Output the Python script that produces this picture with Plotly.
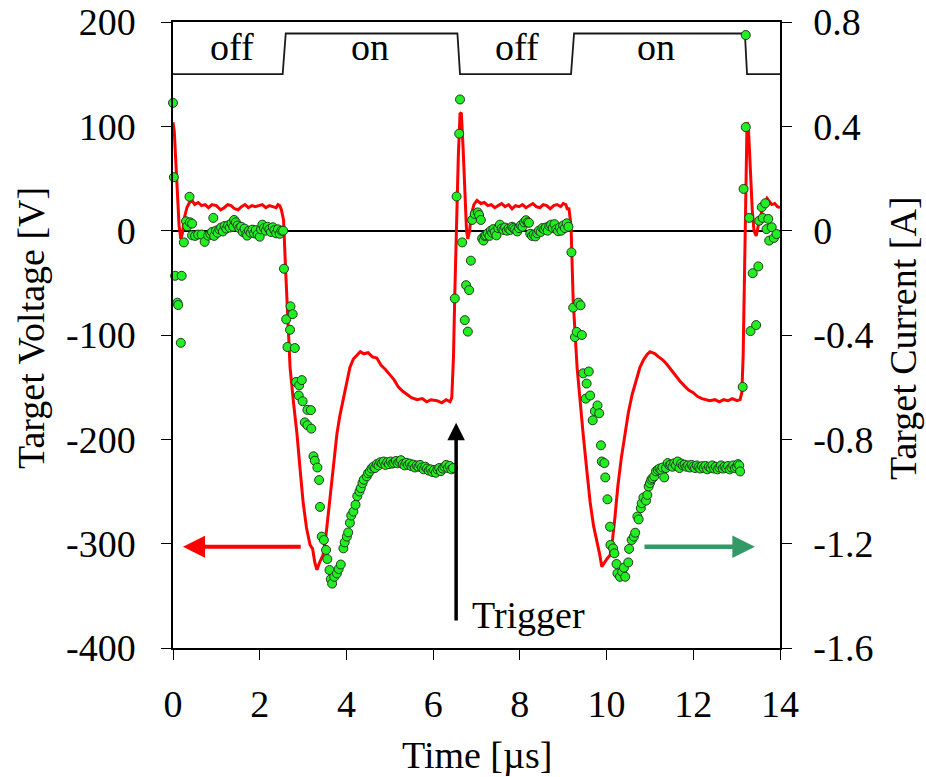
import plotly.graph_objects as go

# ---- Target voltage (red line, left axis) ----
volt_t = [0.00, 0.03, 0.06, 0.10, 0.14, 0.18, 0.22, 0.26, 0.32, 0.38, 0.44, 0.50, 0.58, 0.66, 0.74,
          0.82, 0.90, 1.00, 1.10, 1.18, 1.26, 1.34, 1.42, 1.50, 1.58, 1.66, 1.74, 1.82, 1.90, 1.98,
          2.06, 2.14, 2.22, 2.30, 2.38, 2.42, 2.46, 2.50, 2.55, 2.60, 2.63, 2.70, 2.78, 2.86, 2.93,
          3.00, 3.08, 3.16, 3.22, 3.27, 3.32, 3.38, 3.46, 3.52, 3.57, 3.64, 3.70, 3.78, 3.85, 3.92,
          4.00, 4.08, 4.16, 4.24, 4.32, 4.40, 4.50, 4.60, 4.70, 4.80, 4.90, 5.00, 5.10, 5.20, 5.30,
          5.40, 5.50, 5.63, 5.75, 5.85, 5.95, 6.09, 6.20, 6.30, 6.39, 6.43, 6.47, 6.50, 6.54, 6.58,
          6.62, 6.65, 6.69, 6.73, 6.77, 6.80, 6.84, 6.88, 6.94, 7.01, 7.10, 7.18, 7.26, 7.34, 7.42,
          7.50, 7.58, 7.66, 7.74, 7.82, 7.90, 7.98, 8.06, 8.14, 8.22, 8.30, 8.38, 8.46, 8.54, 8.62,
          8.70, 8.78, 8.86, 8.94, 9.00, 9.06, 9.10, 9.13, 9.18, 9.23, 9.32, 9.39, 9.46, 9.54, 9.62,
          9.70, 9.78, 9.84, 9.89, 9.95, 10.02, 10.08, 10.14, 10.19, 10.26, 10.34, 10.42, 10.50, 10.59, 10.68,
          10.77, 10.85, 10.93, 11.00, 11.05, 11.12, 11.20, 11.30, 11.39, 11.50, 11.60, 11.69, 11.80, 11.90, 11.99,
          12.10, 12.20, 12.30, 12.38, 12.50, 12.60, 12.70, 12.80, 12.90, 13.01, 13.08, 13.12, 13.15, 13.18, 13.21,
          13.24, 13.27, 13.31, 13.36, 13.40, 13.45, 13.50, 13.56, 13.62, 13.70, 13.76, 13.81, 13.88, 13.94, 14.00]
volt_v = [104, 95, 70, 35, 5, -8, -2, 12, 22, 27, 29, 25, 27, 24, 25,
          22, 25, 24, 20, 22, 25, 24, 21, 20, 23, 25, 22, 24, 23, 24,
          25, 22, 24, 23, 22, 25, 24, 20, 10, -40, -67, -131, -165, -195, -228,
          -260, -285, -301, -305, -318, -325, -318, -311, -295, -276, -248, -225, -195, -177, -163,
          -145, -131, -123, -119, -116, -118, -117, -121, -122, -129, -133, -138, -143, -150, -154,
          -157, -160, -162, -161, -164, -162, -163, -165, -162, -164, -160, -120, -60, 10, 70,
          112, 113, 80, 30, 0, -8, 0, 15, 25, 29, 26, 27, 24, 25, 22,
          24, 26, 23, 25, 21, 24, 23, 25, 22, 24, 26, 23, 22, 25, 24,
          21, 24, 25, 23, 26, 25, 20, 22, 5, -67, -131, -165, -195, -228, -260,
          -283, -298, -310, -322, -318, -314, -311, -295, -276, -245, -218, -195, -175, -157, -143,
          -131, -124, -119, -116, -117, -118, -121, -124, -128, -134, -140, -144, -149, -153, -155,
          -159, -161, -162, -163, -162, -164, -162, -163, -161, -163, -162, -155, -120, -50, 40,
          104, 100, 60, 20, 0, -5, 5, 15, 25, 31, 28, 25, 26, 23, 22]

# ---- Target current (green dots, right axis) ----
curr_t = [0.00, 0.02, 0.05, 0.10, 0.12, 0.18, 0.20, 0.25, 0.30, 0.33, 0.38, 0.39, 0.44, 0.44, 0.51,
          0.58, 0.66, 0.73, 0.81, 0.86, 0.90, 0.93, 0.95, 0.99, 1.03, 1.07, 1.11, 1.15, 1.19, 1.23,
          1.27, 1.31, 1.35, 1.39, 1.41, 1.45, 1.49, 1.53, 1.57, 1.61, 1.65, 1.69, 1.71, 1.75, 1.79,
          1.83, 1.87, 1.91, 1.95, 2.00, 2.03, 2.06, 2.10, 2.14, 2.18, 2.22, 2.26, 2.30, 2.34, 2.38,
          2.42, 2.46, 2.50, 2.54, 2.56, 2.61, 2.64, 2.70, 2.71, 2.76, 2.81, 2.84, 2.90, 2.91, 2.97,
          2.99, 3.04, 3.10, 3.10, 3.18, 3.19, 3.24, 3.27, 3.33, 3.37, 3.39, 3.43, 3.48, 3.53, 3.56,
          3.61, 3.64, 3.67, 3.72, 3.78, 3.82, 3.87, 3.93, 3.96, 4.01, 4.04, 4.08, 4.11, 4.16, 4.21,
          4.25, 4.30, 4.33, 4.37, 4.40, 4.47, 4.50, 4.54, 4.58, 4.62, 4.66, 4.70, 4.74, 4.78, 4.82,
          4.86, 4.90, 4.94, 4.98, 5.02, 5.06, 5.10, 5.14, 5.18, 5.22, 5.26, 5.30, 5.34, 5.38, 5.42,
          5.46, 5.50, 5.54, 5.58, 5.62, 5.66, 5.70, 5.74, 5.78, 5.82, 5.86, 5.90, 5.94, 5.98, 6.02,
          6.06, 6.10, 6.14, 6.18, 6.22, 6.26, 6.30, 6.34, 6.38, 6.42, 6.46, 6.50, 6.54, 6.60, 6.62,
          6.67, 6.73, 6.76, 6.80, 6.83, 6.87, 6.90, 6.96, 7.03, 7.06, 7.10, 7.13, 7.16, 7.19, 7.22,
          7.26, 7.30, 7.33, 7.36, 7.39, 7.42, 7.46, 7.50, 7.54, 7.58, 7.62, 7.66, 7.70, 7.74, 7.78,
          7.82, 7.85, 7.89, 7.94, 7.98, 8.02, 8.06, 8.10, 8.14, 8.18, 8.21, 8.24, 8.28, 8.32, 8.36,
          8.40, 8.44, 8.48, 8.52, 8.56, 8.60, 8.64, 8.68, 8.72, 8.76, 8.80, 8.84, 8.88, 8.92, 8.96,
          9.00, 9.04, 9.08, 9.12, 9.19, 9.23, 9.27, 9.31, 9.35, 9.40, 9.43, 9.46, 9.52, 9.54, 9.59,
          9.62, 9.68, 9.73, 9.79, 9.83, 9.87, 9.89, 9.95, 9.97, 10.02, 10.08, 10.09, 10.15, 10.18, 10.23,
          10.25, 10.31, 10.36, 10.40, 10.43, 10.50, 10.52, 10.58, 10.63, 10.66, 10.71, 10.74, 10.79, 10.81, 10.85,
          10.91, 10.94, 10.97, 11.00, 11.03, 11.06, 11.10, 11.14, 11.18, 11.22, 11.26, 11.29, 11.33, 11.37, 11.41,
          11.45, 11.48, 11.52, 11.56, 11.60, 11.64, 11.68, 11.72, 11.76, 11.80, 11.84, 11.88, 11.92, 11.96, 12.00,
          12.04, 12.08, 12.12, 12.16, 12.20, 12.24, 12.28, 12.32, 12.36, 12.40, 12.44, 12.48, 12.52, 12.56, 12.60,
          12.64, 12.68, 12.72, 12.76, 12.80, 12.84, 12.88, 12.92, 12.96, 13.00, 13.03, 13.06, 13.08, 13.14, 13.16,
          13.21, 13.21, 13.29, 13.32, 13.37, 13.45, 13.50, 13.52, 13.58, 13.60, 13.66, 13.69, 13.73, 13.75, 13.81,
          13.86, 13.92]
curr_a = [0.49, 0.205, -0.173, -0.276, -0.285, -0.43, -0.173, -0.045, 0.036, 0.017, 0.13, 0.032, 0.027, -0.018, -0.02,
          -0.015, -0.015, -0.043, -0.019, -0.012, -0.005, 0.049, -0.02, 0.0, -0.008, 0.005, 0.012, -0.003, 0.018, 0.008,
          0.02, 0.012, 0.028, 0.015, 0.041, 0.032, 0.02, 0.01, 0.015, -0.005, 0.008, -0.012, -0.019, 0.0, -0.008,
          0.004, -0.01, 0.002, -0.015, -0.023, 0.005, 0.023, 0.01, 0.0, 0.015, 0.005, -0.005, 0.013, 0.002, -0.01,
          0.005, -0.012, 0.0, 0.0, -0.146, -0.34, -0.446, -0.38, -0.29, -0.32, -0.45, -0.58, -0.632, -0.593, -0.573,
          -0.654, -0.735, -0.687, -0.746, -0.688, -0.759, -0.865, -0.882, -0.908, -0.956, -1.059, -1.173, -1.186, -1.224, -1.259,
          -1.301, -1.336, -1.353, -1.327, -1.314, -1.297, -1.28, -1.218, -1.195, -1.173, -1.157, -1.12, -1.092, -1.077, -1.051,
          -1.018, -1.0, -0.987, -0.968, -0.955, -0.942, -0.93, -0.923, -0.912, -0.905, -0.91, -0.895, -0.9, -0.888, -0.892,
          -0.885, -0.898, -0.888, -0.895, -0.885, -0.893, -0.89, -0.883, -0.892, -0.886, -0.88, -0.895, -0.9, -0.89, -0.898,
          -0.893, -0.903, -0.897, -0.908, -0.9, -0.905, -0.898, -0.908, -0.915, -0.905, -0.912, -0.92, -0.915, -0.925, -0.918,
          -0.928, -0.915, -0.91, -0.922, -0.912, -0.905, -0.898, -0.91, -0.902, -0.915, -0.91, -0.26, 0.131, 0.372, 0.503,
          -0.045, -0.343, -0.209, -0.387, -0.228, -0.115, 0.041, 0.064, 0.07, 0.06, 0.041, -0.03, -0.038, -0.02, -0.018,
          -0.01, -0.02, 0.0, -0.008, 0.006, -0.005, -0.018, 0.01, 0.023, 0.008, 0.003, 0.012, 0.0, 0.008, 0.003,
          0.015, 0.01, 0.005, -0.003, 0.01, 0.02, 0.015, 0.032, 0.04, 0.032, 0.03, -0.012, -0.02, -0.015, -0.022,
          -0.01, 0.0, -0.005, 0.01, 0.005, 0.012, 0.0, 0.018, 0.023, 0.01, 0.025, 0.005, -0.002, 0.012, 0.0,
          0.02, 0.01, 0.028, 0.015, -0.083, -0.295, -0.408, -0.388, -0.276, -0.286, -0.4, -0.547, -0.644, -0.586, -0.54,
          -0.632, -0.727, -0.692, -0.67, -0.7, -0.823, -0.885, -0.891, -0.946, -1.03, -1.135, -1.205, -1.218, -1.237, -1.278,
          -1.314, -1.327, -1.308, -1.292, -1.327, -1.272, -1.22, -1.186, -1.173, -1.158, -1.096, -1.107, -1.064, -1.045, -1.023,
          -1.035, -1.013, -0.981, -0.968, -0.955, -0.949, -0.942, -0.923, -0.917, -0.912, -0.917, -0.908, -0.946, -0.91, -0.891,
          -0.9, -0.897, -0.905, -0.892, -0.9, -0.885, -0.91, -0.893, -0.9, -0.897, -0.905, -0.9, -0.908, -0.898, -0.905,
          -0.91, -0.9, -0.907, -0.912, -0.903, -0.91, -0.902, -0.915, -0.905, -0.91, -0.9, -0.912, -0.905, -0.915, -0.908,
          -0.9, -0.912, -0.905, -0.91, -0.902, -0.915, -0.908, -0.9, -0.91, -0.905, -0.895, -0.9, -0.923, -0.599, 0.16,
          0.397, 0.75, 0.049, -0.385, -0.163, -0.362, -0.137, 0.038, 0.09, 0.049, 0.105, 0.006, 0.045, -0.038, 0.013,
          -0.028, -0.013]

# ---- Trigger / gate signal (drawn on voltage scale) ----
gate_t = [0.0, 2.53, 2.60, 6.56, 6.62, 9.18, 9.25, 13.19, 13.24, 14.0]
gate_v = [150, 150, 189, 189, 150, 150, 189, 189, 150, 150]
gate_labels = ["off", "on", "off", "on"]
gate_label_t = [1.35, 4.55, 7.93, 11.14]
gate_label_v = 176

# ---- Axis ticks ----
x_ticks = [0, 2, 4, 6, 8, 10, 12, 14]
v_ticks = [200, 100, 0, -100, -200, -300, -400]
v_tick_text = ["200", "100", "0", "-100", "-200", "-300", "-400"]
a_ticks = [0.8, 0.4, 0, -0.4, -0.8, -1.2, -1.6]
a_tick_text = ["0.8", "0.4", "0", "-0.4", "-0.8", "-1.2", "-1.6"]

FONT = "Liberation Serif, Times New Roman, serif"
FS = 38

fig = go.Figure()
fig.add_trace(go.Scatter(x=gate_t, y=gate_v, mode="lines",
                         line=dict(color="#1a1a1a", width=1.8), hoverinfo="skip", showlegend=False))
fig.add_trace(go.Scatter(x=volt_t, y=volt_v, mode="lines",
                         line=dict(color="#ff0000", width=3), showlegend=False))
fig.add_trace(go.Scatter(x=curr_t, y=curr_a, mode="markers", yaxis="y2",
                         marker=dict(size=9, color="#22ee22", line=dict(color="#1f3a1f", width=1)),
                         cliponaxis=False, showlegend=False))

for lbl, t in zip(gate_labels, gate_label_t):
    fig.add_annotation(x=t, y=gate_label_v, text=lbl, showarrow=False,
                       font=dict(family=FONT, size=FS, color="black"))

# arrows
fig.add_annotation(x=0.23, y=-303, ax=2.98, ay=-303, xref="x", yref="y", axref="x", ayref="y",
                   text="", showarrow=True, arrowhead=2, arrowsize=1.1, arrowwidth=4, arrowcolor="#ff0000")
fig.add_annotation(x=13.42, y=-303, ax=10.84, ay=-303, xref="x", yref="y", axref="x", ayref="y",
                   text="", showarrow=True, arrowhead=2, arrowsize=1.0, arrowwidth=4.5, arrowcolor="#339966")
fig.add_annotation(x=6.53, y=-184, ax=6.53, ay=-375, xref="x", yref="y", axref="x", ayref="y",
                   text="", showarrow=True, arrowhead=2, arrowsize=1.0, arrowwidth=3.5, arrowcolor="black")
fig.add_annotation(x=8.2, y=-368, text="Trigger", showarrow=False,
                   font=dict(family=FONT, size=FS, color="black"))

# axis titles
fig.add_annotation(xref="paper", yref="paper", x=0.5008, y=-0.171, text="Time [µs]", showarrow=False,
                   xanchor="center", yanchor="middle", font=dict(family=FONT, size=FS, color="black"))
fig.add_annotation(xref="paper", yref="paper", x=-0.234, y=0.511, text="Target Voltage [V]", showarrow=False,
                   textangle=-90, xanchor="center", yanchor="middle", font=dict(family=FONT, size=FS, color="black"))
fig.add_annotation(xref="paper", yref="paper", x=1.2026, y=0.495, text="Target Current [A]", showarrow=False,
                   textangle=-90, xanchor="center", yanchor="middle", font=dict(family=FONT, size=FS, color="black"))

axis_common = dict(showline=True, linecolor="black", linewidth=1.5, ticks="outside",
                   ticklen=10, tickwidth=1.2, tickcolor="black", showgrid=False, automargin=False,
                   ticklabeloverflow="allow",
                   tickfont=dict(family=FONT, size=FS, color="black"))

fig.update_layout(
    width=926, height=777,
    margin=dict(l=173, r=146, t=22, b=129),
    paper_bgcolor="white", plot_bgcolor="white",
    font=dict(family=FONT, size=FS, color="black"),
    xaxis=dict(range=[0, 14], tickvals=x_ticks, mirror=True, zeroline=False,
               ticklabelstandoff=12, **axis_common),
    yaxis=dict(range=[-400, 200], tickvals=v_ticks, ticktext=v_tick_text,
               zeroline=True, zerolinecolor="black", zerolinewidth=1.5,
               ticklabelstandoff=18, **axis_common),
    yaxis2=dict(range=[-1.6, 0.8], tickvals=a_ticks, ticktext=a_tick_text,
                overlaying="y", side="right", zeroline=False,
                ticklabelstandoff=14, **axis_common),
)

# remove the default 8px page margin so the figure fills the window exactly
fig.write_html("out.html", config={"displayModeBar": False},
               post_script="document.body.style.margin='0';document.body.style.overflow='hidden';")
